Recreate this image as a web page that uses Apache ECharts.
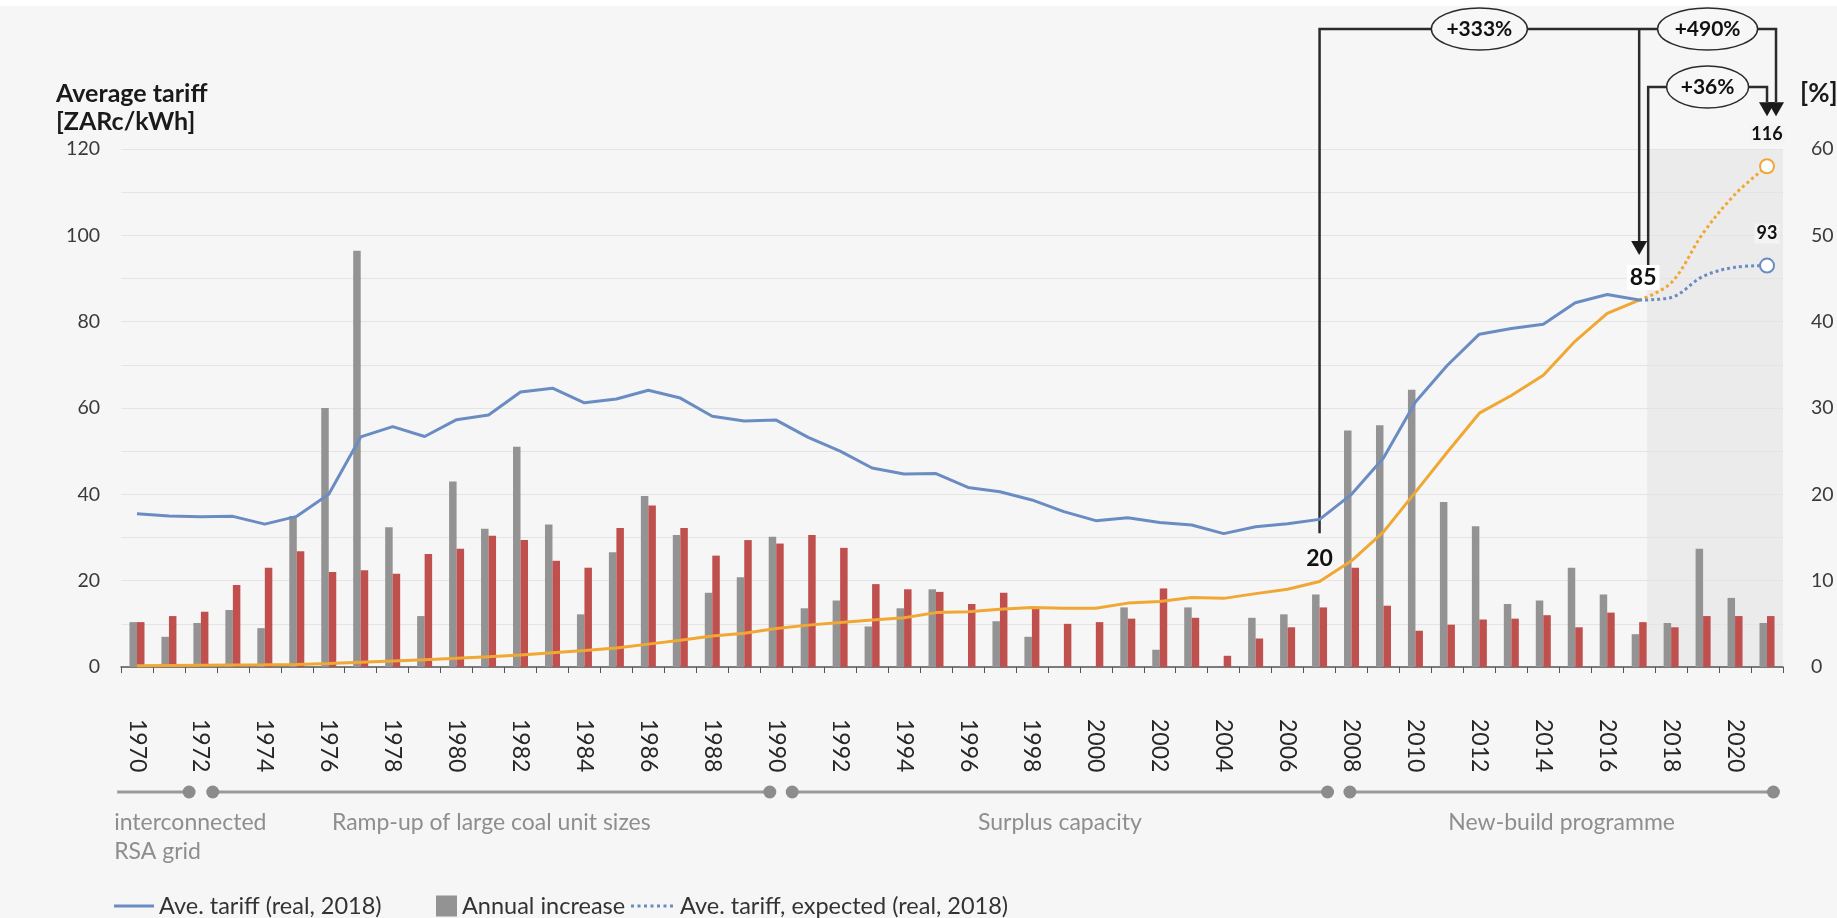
<!DOCTYPE html>
<html><head><meta charset="utf-8">
<script src="https://cdn.jsdelivr.net/npm/echarts@6/dist/echarts.min.js"></script>
<style>html,body{margin:0;padding:0;background:#f6f6f6}#c{width:1837px;height:918px}</style>
</head><body><div id="c"></div>
<script>
// ---------- data ----------
const years = ['1970','1971','1972','1973','1974','1975','1976','1977','1978','1979',
  '1980','1981','1982','1983','1984','1985','1986','1987','1988','1989',
  '1990','1991','1992','1993','1994','1995','1996','1997','1998','1999',
  '2000','2001','2002','2003','2004','2005','2006','2007','2008','2009',
  '2010','2011','2012','2013','2014','2015','2016','2017','2018','2019',
  '2020','2021'];
// Average tariff, real 2018 [ZARc/kWh]
const realTariff = [35.5, 35.0, 34.8, 34.9, 33.1, 34.9, 40.0, 53.3, 55.7, 53.4,
  57.3, 58.4, 63.7, 64.6, 61.2, 62.1, 64.1, 62.3, 58.1, 57.0,
  57.2, 53.2, 50.0, 46.1, 44.7, 44.8, 41.6, 40.6, 38.7, 36.0,
  33.9, 34.6, 33.5, 32.9, 30.9, 32.5, 33.2, 34.2, 40.0, 48.4,
  61.4, 69.9, 77.1, 78.4, 79.4, 84.4, 86.3, 85.0, null, null,
  null, null];
// Average tariff, nominal [ZARc/kWh]
const nominalTariff = [0.3, 0.35, 0.4, 0.45, 0.5, 0.6, 0.8, 1.1, 1.4, 1.7,
  2.0, 2.4, 2.8, 3.3, 3.8, 4.4, 5.3, 6.2, 7.2, 7.8,
  8.9, 9.7, 10.3, 10.9, 11.4, 12.6, 12.8, 13.4, 13.8, 13.6,
  13.6, 14.8, 15.2, 16.1, 15.9, 17.0, 18.0, 19.8, 24.6, 31.3,
  40.5, 49.8, 58.8, 62.9, 67.6, 75.5, 81.9, 85.0, null, null,
  null, null];
// Expected tariffs 2017-2021
const realExpected = Array(47).fill(null).concat([85.0, 85.6, 90.5, 92.6, 93.0]);
const nominalExpected = Array(47).fill(null).concat([85.0, 89.0, 100.5, 109.5, 116.0]);
// Annual increase [%]
const increaseGrey = [5.2, 3.5, 5.1, 6.6, 4.5, 17.5, 30.0, 48.2, 16.2, 5.9,
  21.5, 16.0, 25.5, 16.5, 6.1, 13.3, 19.8, 15.3, 8.6, 10.4,
  15.1, 6.8, 7.7, 4.7, 6.8, 9.0, 0.1, 5.3, 3.5, -0.7,
  -0.4, 6.9, 2.0, 6.9, 0.0, 5.7, 6.1, 8.4, 27.4, 28.0,
  32.1, 19.1, 16.3, 7.3, 7.7, 11.5, 8.4, 3.8, 5.1, 13.7,
  8.0, 5.1];
const increaseRed = [5.2, 5.9, 6.4, 9.5, 11.5, 13.4, 11.0, 11.2, 10.8, 13.1,
  13.7, 15.2, 14.7, 12.3, 11.5, 16.1, 18.7, 16.1, 12.9, 14.7,
  14.3, 15.3, 13.8, 9.6, 9.0, 8.7, 7.3, 8.6, 6.8, 5.0,
  5.2, 5.6, 9.1, 5.7, 1.3, 3.3, 4.6, 6.9, 11.5, 7.1,
  4.2, 4.9, 5.5, 5.6, 6.0, 4.6, 6.3, 5.2, 4.6, 5.9,
  5.9, 5.9];
// Periods along the timeline (fractional years)
const periods = [
  {label: 'interconnected\nRSA grid', from: 1969.38, to: 1971.63},
  {label: 'Ramp-up of large coal unit sizes', from: 1972.37, to: 1989.8},
  {label: 'Surplus capacity', from: 1990.5, to: 2007.25},
  {label: 'New-build programme', from: 2007.95, to: 2021.2}
];
const changes = [
  {text: '+333%', from: '2007', to: '2017'},
  {text: '+490%', from: '2017', to: '2021'},
  {text: '+36%', from: '2017', to: '2021'}
];
const labelReal = '2017';
const labelNominal = '2007';

// ---------- styles ----------
const FONT = 'Lato, "Open Sans", sans-serif';
const BLUE = '#6b8cc3', ORANGE = '#f0a733', GREY = '#939393', RED = '#c0504d';
const DOTS = 'path://M0,0h3v3h-3z M6.5,0h3v3h-3z M13,0h3v3h-3z M19.5,0h3v3h-3z M26,0h3v3h-3z M32.5,0h3v3h-3z M39,0h3v3h-3z';

const chart = echarts.init(document.getElementById('c'), null, {renderer: 'canvas'});

function withLabel(arr, year, label) {
  return arr.map((v, i) => years[i] === year ? {value: v, symbol: 'circle', symbolSize: 2, label: label} : v);
}
function endCircle(arr, color) {
  return arr.map((v, i) => i === arr.length - 1 ? {
    value: v, symbol: 'emptyCircle', symbolSize: 14,
    itemStyle: {color: color, borderWidth: 2},
    label: {show: true, position: 'top', distance: 14, formatter: '{c}', fontFamily: FONT,
      fontWeight: 'bold', fontSize: 18, color: '#111', backgroundColor: '#f4f4f4', padding: [1, 2]}
  } : v);
}
const bigLabel = {show: true, position: 'top', fontFamily: FONT, fontWeight: 'bold', fontSize: 23,
  color: '#111', formatter: p => Math.round(p.value)};
const legendText = {fontFamily: FONT, fontSize: 23.5, color: '#333'};

chart.setOption({
  backgroundColor: '#f6f6f6',
  animation: false,
  textStyle: {fontFamily: FONT},
  title: {text: 'Average tariff\n[ZARc/kWh]', left: 56, top: 80, padding: 0,
    textStyle: {fontFamily: FONT, fontWeight: 'bold', fontSize: 25, lineHeight: 28, color: '#1a1a1a'}},
  grid: {left: 121, right: 54, top: 149, bottom: 251, containLabel: false, outerBoundsMode: 'none'},
  legend: [
    {data: [{name: 'Ave. tariff (real, 2018)', icon: 'rect'}], left: 114, top: 894, padding: 0, itemWidth: 40, itemHeight: 3,
      textStyle: legendText},
    {data: [{name: 'Annual increase', icon: 'rect'}], left: 436, top: 894, padding: 0, itemWidth: 21, itemHeight: 21,
      textStyle: legendText},
    {data: [{name: 'Ave. tariff, expected (real, 2018)', icon: DOTS}], left: 631, top: 894, padding: 0, itemWidth: 46, itemHeight: 3,
      itemStyle: {color: BLUE}, textStyle: legendText}
  ],
  xAxis: {
    type: 'category', data: years, boundaryGap: true,
    axisLine: {lineStyle: {color: '#555', width: 1.5}},
    axisTick: {show: true, interval: 0, length: 6, lineStyle: {color: '#555'}},
    axisLabel: {interval: 1, rotate: -90, margin: 52, fontFamily: FONT, fontSize: 23, color: '#262626'}
  },
  yAxis: [
    {type: 'value', min: 0, max: 120, interval: 20,
      axisLine: {show: false}, axisTick: {show: false},
      axisLabel: {margin: 21, fontFamily: FONT, fontSize: 19.5, color: '#3a3a3a'},
      splitLine: {lineStyle: {color: '#e4e4e4', width: 1}},
      minorTick: {show: false, splitNumber: 2},
      minorSplitLine: {show: true, lineStyle: {color: '#e4e4e4', width: 1}}},
    {type: 'value', min: 0, max: 60, interval: 10, position: 'right',
      name: '[%]', nameLocation: 'end', nameGap: 55,
      nameTextStyle: {fontFamily: FONT, fontWeight: 'bold', fontSize: 26, color: '#1a1a1a', align: 'left', verticalAlign: 'middle', padding: [0, 0, 0, 17]},
      axisLine: {show: false}, axisTick: {show: false}, splitLine: {show: false},
      axisLabel: {margin: 28, align: 'left', fontFamily: FONT, fontSize: 19.5, color: '#3a3a3a'}}
  ],
  series: [
    {name: 'Annual increase', type: 'bar', yAxisIndex: 1, data: increaseGrey,
      barWidth: 7.5, barGap: '0%', itemStyle: {color: GREY}},
    {name: 'Annual inflation', type: 'bar', yAxisIndex: 1, data: increaseRed,
      barWidth: 7.5, barGap: '0%', itemStyle: {color: RED}},
    {name: 'Ave. tariff (nominal)', type: 'line', data: withLabel(nominalTariff, labelNominal, Object.assign({distance: 10}, bigLabel)),
      symbol: 'none', showAllSymbol: true, z: 3, lineStyle: {color: ORANGE, width: 3}, itemStyle: {color: ORANGE}},
    {name: 'Ave. tariff (real, 2018)', type: 'line', data: withLabel(realTariff, labelReal, Object.assign({distance: 9, offset: [4, 0], backgroundColor: '#fff', padding: [1, 3]}, bigLabel)),
      symbol: 'none', showAllSymbol: true, z: 4, lineStyle: {color: BLUE, width: 3}, itemStyle: {color: BLUE}},
    {name: 'Ave. tariff, expected (nominal)', type: 'line', data: endCircle(nominalExpected, ORANGE), smooth: 0.35,
      symbol: 'none', showAllSymbol: true, z: 3, lineStyle: {color: ORANGE, width: 3, type: 'dotted'}, itemStyle: {color: ORANGE}},
    {name: 'Ave. tariff, expected (real, 2018)', type: 'line', data: endCircle(realExpected, BLUE), smooth: 0.35,
      symbol: 'none', showAllSymbol: true, z: 4, lineStyle: {color: BLUE, width: 3, type: 'dotted'}, itemStyle: {color: BLUE}}
  ]
});

// ---------- annotations (positions derived from the axes) ----------
const idx = y => years.indexOf(y);
const px = y => chart.convertToPixel({xAxisIndex: 0}, idx(y));
const py = v => chart.convertToPixel({yAxisIndex: 0}, v);
const x0 = px('1970'), band = px('1971') - x0;
const xf = yr => x0 + (yr - 1970) * band;
const gridRight = 1837 - 54;

const g = [];
g.push({type: 'rect', z: -20, shape: {x: 0, y: 0, width: 1837, height: 6}, style: {fill: '#ffffff'}});
g.push({type: 'rect', z: -10, shape: {x: px('2017') + band * 0.25, y: py(120), width: gridRight - px('2017') - band * 0.25, height: py(0) - py(120)},
  style: {fill: '#ebebeb'}});

// timeline
const tlY = 792;
periods.forEach((p, i) => {
  const a = xf(p.from), b = xf(p.to);
  g.push({type: 'line', shape: {x1: a, y1: tlY, x2: b, y2: tlY}, style: {stroke: '#9a9a9a', lineWidth: 3}});
  if (i > 0) g.push({type: 'circle', shape: {cx: a, cy: tlY, r: 6.5}, style: {fill: '#8c8c8c'}});
  g.push({type: 'circle', shape: {cx: b, cy: tlY, r: 6.5}, style: {fill: '#8c8c8c'}});
  const first = i === 0;
  g.push({type: 'text', style: {text: p.label, x: first ? a - 3 : (a + b) / 2, y: 808,
    align: first ? 'left' : 'center', textAlign: first ? 'left' : 'center', verticalAlign: 'top', textVerticalAlign: 'top',
    font: '23px ' + FONT, lineHeight: 29, fill: '#8e8e8e'}});
});

// change brackets
const ink = '#2b2b2b';
const xS = px(changes[0].from), xA = px(changes[0].to), xB = xA + 9, xC = px(changes[2].to), xD = xC + 9;
const yTop = 29, yMid = 87;
const yStart = py(realTariff[idx(changes[0].from)]) + 14;
const tip85 = py(realTariff[idx(labelReal)]) - 45;
const tipEnd = py(nominalExpected[nominalExpected.length - 1]) - 50;
const AH = 14, AW = 8;
function arrow(x, tip) {
  g.push({type: 'polygon', shape: {points: [[x - AW, tip - AH], [x + AW, tip - AH], [x, tip]]}, style: {fill: '#1a1a1a'}});
}
g.push({type: 'polyline', shape: {points: [[xS, yStart], [xS, yTop], [xD, yTop], [xD, tipEnd - AH]]}, style: {stroke: ink, lineWidth: 2.5, fill: null}});
g.push({type: 'polyline', shape: {points: [[xA, yTop], [xA, tip85 - AH]]}, style: {stroke: ink, lineWidth: 2.5, fill: null}});
g.push({type: 'polyline', shape: {points: [[xB, tip85 + 10], [xB, yMid], [xC, yMid], [xC, tipEnd - AH]]}, style: {stroke: ink, lineWidth: 2.5, fill: null}});
arrow(xA, tip85); arrow(xC, tipEnd); arrow(xD, tipEnd);
function bubble(text, cx, cy, rx, ry) {
  g.push({type: 'ellipse', shape: {cx: cx, cy: cy, rx: rx, ry: ry}, style: {fill: '#f7f7f7', stroke: ink, lineWidth: 1.5}});
  g.push({type: 'text', style: {text: text, x: cx, y: cy, align: 'center', textAlign: 'center', verticalAlign: 'middle', textVerticalAlign: 'middle',
    font: 'bold 21px ' + FONT, fill: '#111'}});
}
bubble(changes[0].text, (xS + xA) / 2, yTop, 48, 21);
bubble(changes[1].text, (xA + xD) / 2, yTop, 50, 21);
bubble(changes[2].text, (xB + xC) / 2, yMid, 41, 21);

chart.setOption({graphic: g});
</script>
</body></html>
